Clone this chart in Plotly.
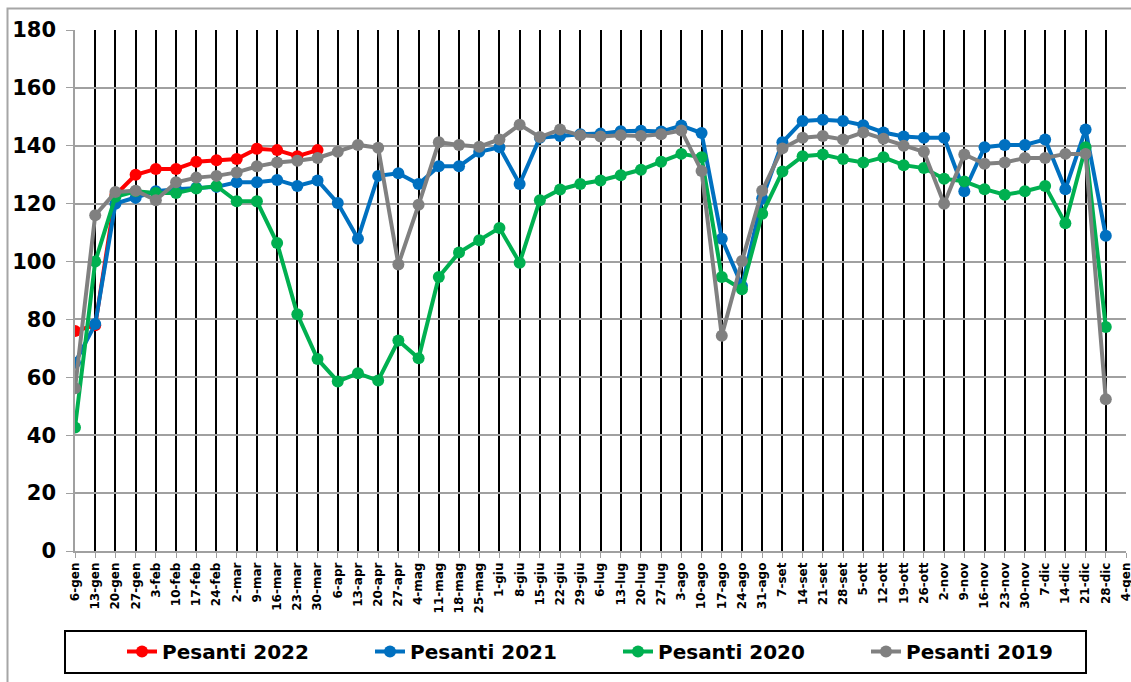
import plotly.graph_objects as go

weeks = ["6-gen","13-gen","20-gen","27-gen","3-feb","10-feb","17-feb","24-feb","2-mar","9-mar",
         "16-mar","23-mar","30-mar","6-apr","13-apr","20-apr","27-apr","4-mag","11-mag","18-mag",
         "25-mag","1-giu","8-giu","15-giu","22-giu","29-giu","6-lug","13-lug","20-lug","27-lug",
         "3-ago","10-ago","17-ago","24-ago","31-ago","7-set","14-set","21-set","28-set","5-ott",
         "12-ott","19-ott","26-ott","2-nov","9-nov","16-nov","23-nov","30-nov","7-dic","14-dic",
         "21-dic","28-dic","4-gen"]

pesanti_2022 = [76, 78, 123, 130, 132, 132, 134.5, 135, 135.4, 139, 138.5, 136.4, 138.5]

pesanti_2021 = [65, 78.4, 120, 122, 124.3, 125, 125.5, 125.8, 127.4, 127.4,
                128.2, 126.1, 128, 120.2, 107.9, 129.6, 130.5, 126.8, 132.9, 132.9,
                137.9, 139.5, 126.8, 142.8, 143.4, 144, 144.2, 145, 145.2, 144.9,
                147, 144.4, 107.9, 91.6, 121.8, 141.2, 148.6, 149, 148.6, 147.1,
                144.6, 143.2, 142.8, 142.8, 124.3, 139.5, 140.3, 140.3, 142.2, 125,
                145.6, 108.9]

pesanti_2020 = [42.7, 100, 122.4, 124.3, 123.7, 123.7, 125.2, 126.1, 120.8, 120.8,
                106.4, 81.8, 66.3, 58.6, 61.4, 58.9, 72.7, 66.6, 94.7, 103.1,
                107.4, 111.6, 99.6, 121.2, 124.9, 126.8, 128, 129.8, 131.7, 134.5,
                137.2, 136, 94.7, 90.4, 116.5, 131.1, 136.4, 137, 135.4, 134.2,
                136, 133.3, 132.3, 128.6, 127.7, 125, 123.1, 124.3, 126.1, 113.2,
                139.5, 77.4]

pesanti_2019 = [56.2, 116, 124, 124.5, 121.2, 127.4, 129, 129.6, 130.8, 132.9,
                134.2, 134.8, 135.8, 137.9, 140.3, 139.3, 99, 119.6, 141.2, 140.3,
                139.7, 142.2, 147.3, 143, 145.6, 143.6, 143.2, 143.6, 143.4, 144,
                145.3, 131.3, 74.4, 100.2, 124.5, 139.1, 142.8, 143.4, 142.2, 144.6,
                142.4, 140, 137.9, 120, 137, 133.8, 134.2, 135.8, 135.8, 137.2,
                137.2, 52.4]

y_ticks = [0, 20, 40, 60, 80, 100, 120, 140, 160, 180]

series = [
    ("Pesanti 2022", pesanti_2022, "#FF0000"),
    ("Pesanti 2021", pesanti_2021, "#0070C0"),
    ("Pesanti 2020", pesanti_2020, "#00B050"),
    ("Pesanti 2019", pesanti_2019, "#808080"),
]

FONT = "DejaVu Sans"

fig = go.Figure()
for name, vals, color in series:
    fig.add_trace(go.Scatter(
        x=weeks[:len(vals)], y=vals, name=name, mode="lines+markers",
        line=dict(color=color, width=4),
        marker=dict(color=color, size=12),
    ))

# figure fills the page (body margin removed in post_script)
W, H = 1131, 682
# plot area in page pixels
L, R, T, B = 75, 1126, 30, 551
pw, ph = R - L, B - T

def px_x(p):
    return (p - L) / pw

def px_y(p):
    return (B - p) / ph

shapes = [
    # outer chart border
    dict(type="rect", xref="paper", yref="paper",
         x0=px_x(7.5), x1=px_x(1145), y0=px_y(8.5), y1=px_y(700),
         line=dict(color="#A6A6A6", width=2), fillcolor="rgba(0,0,0,0)", layer="above"),
    # legend box
    dict(type="rect", xref="paper", yref="paper",
         x0=px_x(65), x1=px_x(1086), y0=px_y(631), y1=px_y(673),
         line=dict(color="#000000", width=2), fillcolor="rgba(0,0,0,0)"),
]

fig.update_layout(
    width=W, height=H,
    margin=dict(l=L, r=W - R, t=T, b=H - B, pad=0, autoexpand=False),
    paper_bgcolor="white", plot_bgcolor="white",
    font=dict(family=FONT, color="black"),
    hovermode=False,
    showlegend=True,
    legend=dict(
        orientation="h", x=px_x(122), y=px_y(632), xanchor="left", yanchor="top",
        font=dict(family=FONT, size=20, color="black", weight="bold"),
        bgcolor="rgba(0,0,0,0)", borderwidth=0,
        entrywidth=203, entrywidthmode="pixels", traceorder="normal",
    ),
    shapes=shapes,
    xaxis=dict(
        type="category", categoryorder="array", categoryarray=weeks,
        range=[0, len(weeks) - 1], automargin=False,
        tickmode="array", tickvals=weeks, ticktext=weeks,
        tickangle=-90, tickfont=dict(family=FONT, size=12, color="black", weight="bold"),
        ticklabeloverflow="allow",
        showgrid=True, gridcolor="black", gridwidth=2,
        showline=True, linecolor="#A0A0A0", linewidth=1.5,
        ticks="outside", ticklen=5, tickcolor="#A0A0A0", tickwidth=1,
        zeroline=False, fixedrange=True,
    ),
    yaxis=dict(
        range=[0, 180], tickmode="array", tickvals=y_ticks, automargin=False,
        tickfont=dict(family=FONT, size=21, color="black", weight="bold"),
        showgrid=True, gridcolor="#A0A0A0", gridwidth=1.5,
        showline=True, linecolor="#A0A0A0", linewidth=1.5,
        ticks="outside", ticklen=7, tickcolor="#A0A0A0",
        ticklabelstandoff=6,
        zeroline=False, fixedrange=True,
    ),
)

fig.write_html(
    "out.html",
    config={"displayModeBar": False},
    post_script="document.body.style.margin='0';document.body.style.overflow='hidden';",
)
